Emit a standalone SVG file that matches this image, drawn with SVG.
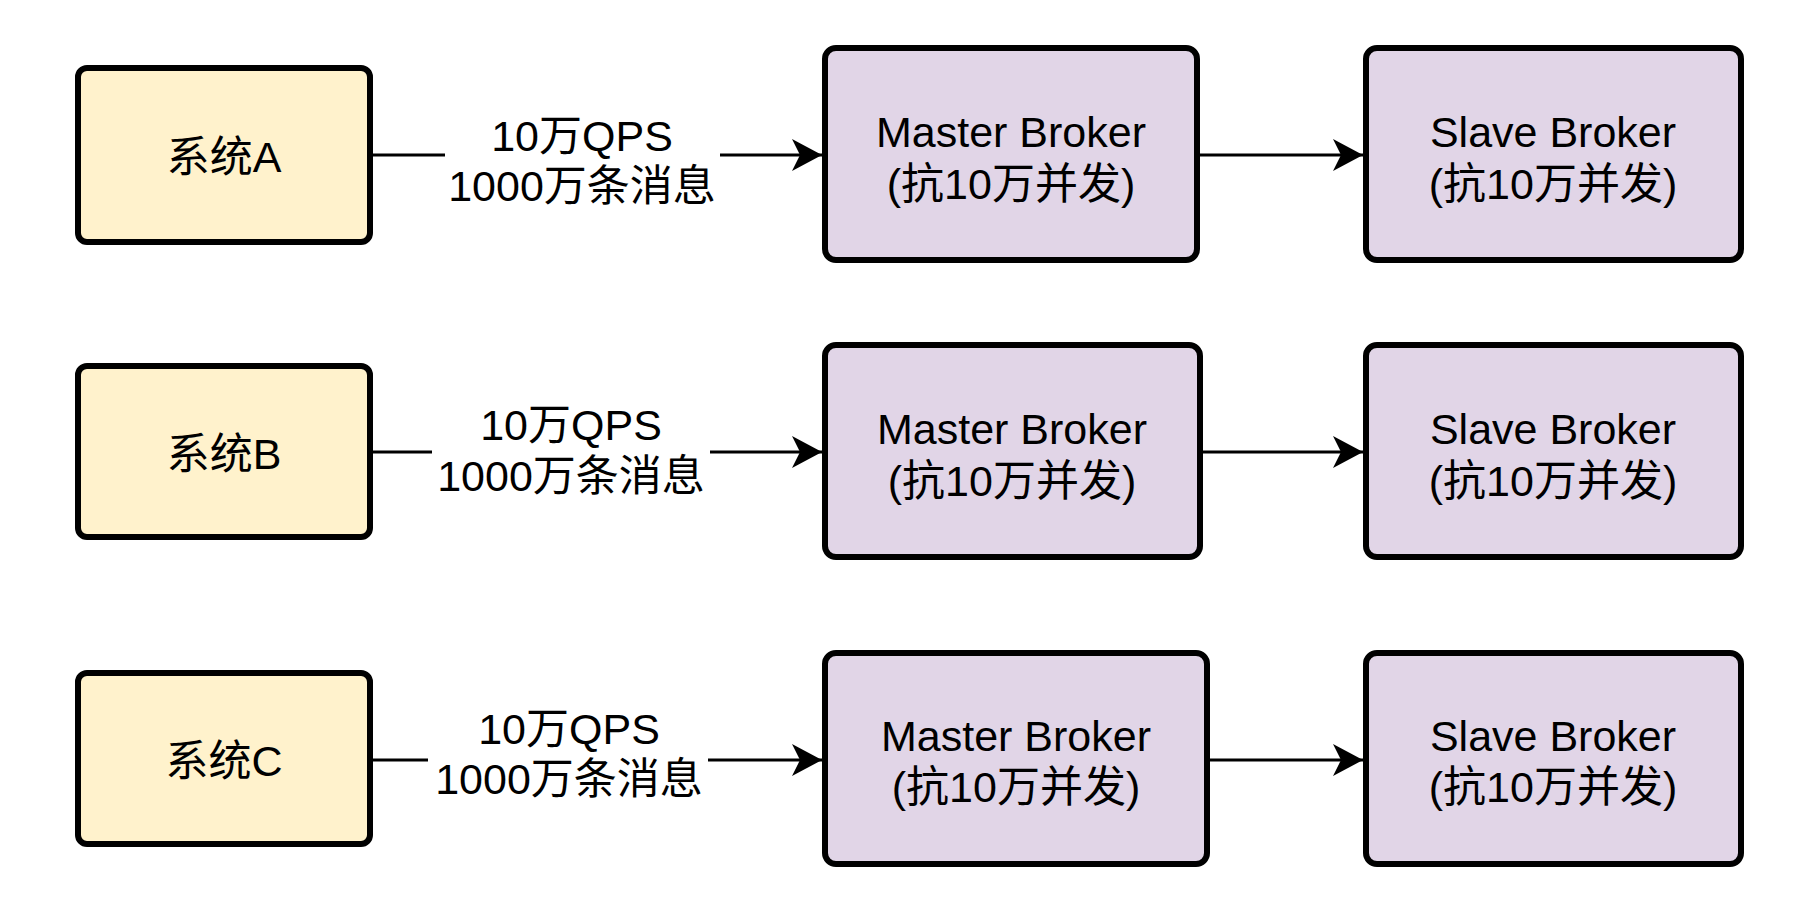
<svg xmlns="http://www.w3.org/2000/svg" width="1820" height="904" viewBox="0 0 1820 904">
<style>
  .sys { fill: #fff2cc; stroke: #000; stroke-width: 6; }
  .brk { fill: #e1d5e7; stroke: #000; stroke-width: 6; }
  text { font-family: "Liberation Sans", "Noto Sans CJK SC", sans-serif; font-size: 43px; fill: #000; text-anchor: middle; }
  .edge { stroke: #000; stroke-width: 3; fill: none; }
  .arr { stroke: #000; stroke-width: 3; fill: none; marker-end: url(#ah); }
</style>
<defs>
  <marker id="ah" markerUnits="userSpaceOnUse" viewBox="0 0 30 32" refX="30" refY="16" markerWidth="30" markerHeight="32" orient="auto">
    <path d="M0,0 L30,16 L0,32 L8,16 Z" fill="#000"/>
  </marker>
</defs>
<rect width="1820" height="904" fill="#fff"/>

<g id="connectors">
  <line class="edge" x1="373" y1="155" x2="445" y2="155"/>
  <line class="arr" x1="720" y1="155" x2="822" y2="155"/>
  <line class="arr" x1="1200" y1="155" x2="1363" y2="155"/>

  <line class="edge" x1="373" y1="452" x2="432" y2="452"/>
  <line class="arr" x1="710" y1="452" x2="822" y2="452"/>
  <line class="arr" x1="1202" y1="452" x2="1363" y2="452"/>

  <line class="edge" x1="373" y1="760" x2="428" y2="760"/>
  <line class="arr" x1="708" y1="760" x2="822" y2="760"/>
  <line class="arr" x1="1209" y1="760" x2="1363" y2="760"/>

  <g id="label-a">
    <text x="582" y="151">10万QPS</text>
    <text x="582" y="201">1000万条消息</text>
  </g>
  <g id="label-b">
    <text x="571" y="440">10万QPS</text>
    <text x="571" y="491">1000万条消息</text>
  </g>
  <g id="label-c">
    <text x="569" y="744">10万QPS</text>
    <text x="569" y="794">1000万条消息</text>
  </g>
</g>

<g id="sysA">
  <rect class="sys" x="78" y="68" width="292" height="174" rx="9"/>
  <text x="224" y="172">系统A</text>
</g>
<g id="sysB">
  <rect class="sys" x="78" y="366" width="292" height="171" rx="9"/>
  <text x="224" y="469">系统B</text>
</g>
<g id="sysC">
  <rect class="sys" x="78" y="673" width="292" height="171" rx="9"/>
  <text x="224" y="776">系统C</text>
</g>

<g id="masterA">
  <rect class="brk" x="825" y="48" width="372" height="212" rx="11"/>
  <text x="1011" y="147">Master Broker</text>
  <text x="1011" y="199">(抗10万并发)</text>
</g>
<g id="slaveA">
  <rect class="brk" x="1366" y="48" width="375" height="212" rx="11"/>
  <text x="1553" y="147">Slave Broker</text>
  <text x="1553" y="199">(抗10万并发)</text>
</g>

<g id="masterB">
  <rect class="brk" x="825" y="345" width="375" height="212" rx="11"/>
  <text x="1012" y="444">Master Broker</text>
  <text x="1012" y="496">(抗10万并发)</text>
</g>
<g id="slaveB">
  <rect class="brk" x="1366" y="345" width="375" height="212" rx="11"/>
  <text x="1553" y="444">Slave Broker</text>
  <text x="1553" y="496">(抗10万并发)</text>
</g>

<g id="masterC">
  <rect class="brk" x="825" y="653" width="382" height="211" rx="11"/>
  <text x="1016" y="751">Master Broker</text>
  <text x="1016" y="802">(抗10万并发)</text>
</g>
<g id="slaveC">
  <rect class="brk" x="1366" y="653" width="375" height="211" rx="11"/>
  <text x="1553" y="751">Slave Broker</text>
  <text x="1553" y="802">(抗10万并发)</text>
</g>
</svg>
